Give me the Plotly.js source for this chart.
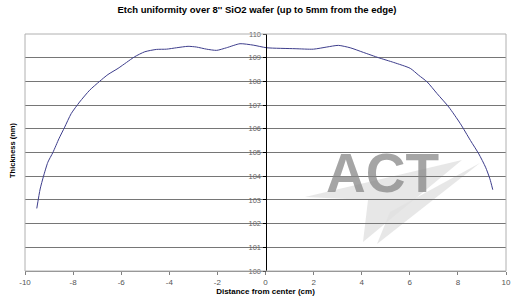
<!DOCTYPE html>
<html>
<head>
<meta charset="utf-8">
<script src="https://cdn.plot.ly/plotly-3.0.1.min.js"></script>
<style>html,body{margin:0;padding:0;background:#fff;}#chart{width:514px;height:298px;}</style>
</head>
<body>
<div id="chart"></div>
<script>
const distance = [-9.51,-9.37,-9.23,-9.05,-8.84,-8.59,-8.35,-8.08,-7.73,-7.31,-6.90,-6.55,-6.13,-5.78,-5.44,-5.02,-4.53,-4.12,-3.70,-3.22,-2.87,-2.45,-2.03,-1.62,-1.06,-0.51,0.05,1.23,1.99,2.55,3.03,3.52,4.08,4.70,5.33,6.02,6.37,6.72,7.13,7.62,8.10,8.52,8.87,9.15,9.33,9.45];
const thickness = [102.64,103.46,104.00,104.59,105.00,105.58,106.07,106.64,107.13,107.63,108.00,108.29,108.55,108.80,109.04,109.25,109.35,109.36,109.42,109.48,109.45,109.36,109.31,109.42,109.59,109.53,109.42,109.38,109.36,109.45,109.52,109.42,109.22,109.00,108.80,108.55,108.26,107.98,107.49,106.92,106.22,105.51,104.94,104.38,103.89,103.43];
const xTicks = [-10,-8,-6,-4,-2,0,2,4,6,8,10];
const yTicks = [100,101,102,103,104,105,106,107,108,109,110];

const F = 'Liberation Sans, Arial, sans-serif';
const W = 481, H = 237; // plot area size in px
function px(x){return (x-25)/W;}
function py(y){return (271-y)/H;}
function path(pts){return 'M'+pts.map(p=>px(p[0]).toFixed(4)+','+py(p[1]).toFixed(4)).join(' L')+' Z';}

const trace = {
  x: distance, y: thickness, type: 'scatter', mode: 'lines',
  line: {color: '#3d3d8c', width: 1, shape: 'spline', smoothing: 0.6},
  hoverinfo: 'skip'
};

const layout = {
  width: 514, height: 298,
  margin: {l: 25, r: 8, t: 34, b: 27, pad: 0},
  paper_bgcolor: '#ffffff', plot_bgcolor: '#ffffff',
  showlegend: false,
  title: {text: "Etch uniformity over 8'' SiO2 wafer (up to 5mm from the edge)",
          font: {family: F, size: 9.5, color: '#000', weight: 'bold'},
          x: 0.5, xanchor: 'center', y: 0.968, yanchor: 'middle'},
  xaxis: {
    range: [-10, 10], tickvals: xTicks, ticktext: xTicks.map(String),
    showgrid: false, zeroline: false,
    showline: true, linecolor: '#808080', linewidth: 1,
    ticks: 'outside', ticklen: 3, tickcolor: '#808080',
    tickfont: {family: F, size: 8, color: '#555'},
    title: {text: 'Distance from center (cm)', font: {family: F, size: 8, color: '#000', weight: 'bold'}, standoff: 1},
    fixedrange: true
  },
  yaxis: {
    range: [100, 110], tickvals: yTicks, ticktext: yTicks.map(String),
    anchor: 'free', position: 0.5,
    showgrid: true, gridcolor: '#767676', gridwidth: 1, zeroline: false,
    showline: true, linecolor: '#000', linewidth: 1,
    ticks: 'outside', ticklen: 3, tickcolor: '#000',
    tickfont: {family: F, size: 7.5, color: '#666'},
    fixedrange: true
  },
  shapes: [
    {type: 'path', xref: 'paper', yref: 'paper', layer: 'below', line: {width: 0},
     fillcolor: 'rgba(225,225,225,0.8)',
     path: path([[305,197],[462,160],[363,242],[368,200]])},
    {type: 'path', xref: 'paper', yref: 'paper', layer: 'below', line: {width: 0},
     fillcolor: 'rgba(225,225,225,0.8)',
     path: path([[377,244],[480,163],[390,212]])},
    {type: 'rect', xref: 'paper', yref: 'paper', x0: 0, x1: 1, y0: 0, y1: 1,
     line: {color: '#b0b0b0', width: 1}, layer: 'above'}
  ],
  annotations: [
    {text: 'ACT', xref: 'paper', yref: 'paper', x: px(382), y: py(173),
     xanchor: 'center', yanchor: 'middle', showarrow: false,
     font: {family: F, size: 55, color: 'rgba(135,135,135,0.75)', weight: 'bold'}},
    {text: 'Thickness (nm)', xref: 'paper', yref: 'paper', x: px(12), y: py(150),
     xanchor: 'center', yanchor: 'middle', showarrow: false, textangle: -90,
     font: {family: F, size: 7.5, color: '#000', weight: 'bold'}}
  ]
};

Plotly.newPlot('chart', [trace], layout, {displayModeBar: false, staticPlot: true});
</script>
</body>
</html>
